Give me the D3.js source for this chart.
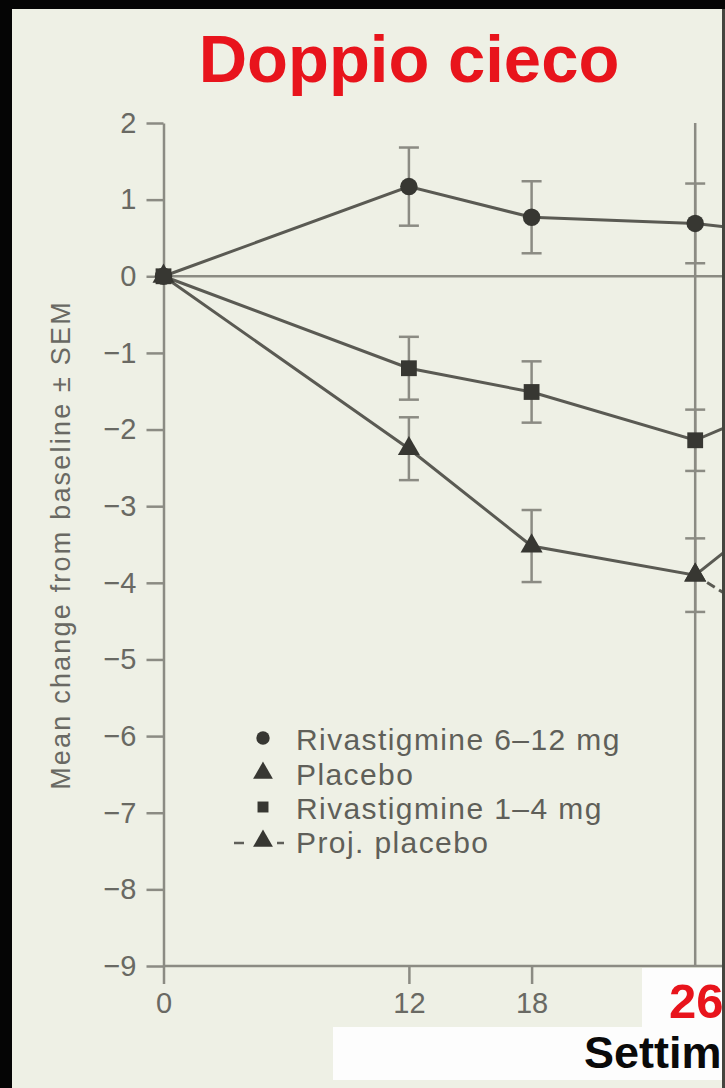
<!DOCTYPE html>
<html>
<head>
<meta charset="utf-8">
<script src="https://cdn.jsdelivr.net/npm/d3@7"></script>
<style>
  html, body { margin: 0; padding: 0; background: #000; }
  svg { display: block; }
  text { font-family: "Liberation Sans", Arial, Helvetica, sans-serif; }
</style>
</head>
<body>
<svg id="chart" width="725" height="1088"></svg>
<script>
// ADAS-cog style change from baseline, weeks of treatment
const weeks = [0, 12, 18, 26, 38];

const highDose = [0, 1.17, 0.77, 0.69, 0.33];     // Rivastigmine 6–12 mg
const highDoseSem = [null, 0.51, 0.47, 0.52, null];

const lowDose = [0, -1.20, -1.51, -2.14, -0.78];  // Rivastigmine 1–4 mg
const lowDoseSem = [null, 0.41, 0.40, 0.40, null];

const placebo = [0, -2.25, -3.52, -3.90, -1.35];
const placeboSem = [null, 0.41, 0.47, 0.48, null];

const projWeeks = [26, 52];
const projPlacebo = [-3.90, -8.20];

const yTicks = [2, 1, 0, -1, -2, -3, -4, -5, -6, -7, -8, -9];
const xTicks = [0, 12, 18];
const endWeek = 26;

const legendLabels = ["Rivastigmine 6\u201312 mg", "Placebo", "Rivastigmine 1\u20134 mg", "Proj. placebo"];

const W = 725, H = 1088;
const svg = d3.select("#chart");

const bg = "#eef0e5";
const axisGrey = "#8b8b83";
const lineGrey = "#5a5a53";
const markFill = "#373732";
const textGrey = "#696963";
const legendGrey = "#5f5f59";

// page frame
svg.append("rect").attr("width", W).attr("height", H).attr("fill", "#050505");
svg.append("rect").attr("x", 12).attr("y", 9).attr("width", 710).attr("height", H - 9).attr("fill", bg);

// scales
const x = d3.scaleLinear().domain([0, 52]).range([163.5, 163.5 + 52 * 20.45]);
const y = d3.scaleLinear().domain([-9, 2]).range([966, 123]);

const defs = svg.append("defs");
defs.append("clipPath").attr("id", "plotClip")
  .append("rect").attr("x", 12).attr("y", 9).attr("width", 710).attr("height", H);

// title
svg.append("text")
  .attr("x", 409).attr("y", 82)
  .attr("text-anchor", "middle")
  .attr("font-size", 67).attr("font-weight", "bold")
  .attr("fill", "#e8141c")
  .text("Doppio cieco");

const plot = svg.append("g").attr("clip-path", "url(#plotClip)");

// y axis
const yAxis = d3.axisLeft(y).tickValues(yTicks).tickSize(17).tickSizeOuter(0).tickPadding(10)
  .tickFormat(d3.format("d"));
const gy = plot.append("g").attr("transform", `translate(${x(0)},0)`).call(yAxis);
gy.select(".domain").attr("stroke", axisGrey).attr("stroke-width", 2.5);
gy.selectAll(".tick line").attr("stroke", axisGrey).attr("stroke-width", 2.5);
gy.selectAll(".tick text").attr("fill", textGrey).attr("font-size", 29)
  .attr("font-family", "Liberation Sans, Arial, sans-serif");

// x axis
const xAxis = d3.axisBottom(x).tickValues(xTicks).tickSize(18).tickSizeOuter(0).tickPadding(8);
const gx = plot.append("g").attr("transform", `translate(0,${y(-9)})`).call(xAxis);
gx.select(".domain").attr("stroke", axisGrey).attr("stroke-width", 2.5)
  .attr("d", `M${x(0)},0H${W}`);
gx.selectAll(".tick line").attr("stroke", axisGrey).attr("stroke-width", 2.5);
gx.selectAll(".tick text").attr("fill", textGrey).attr("font-size", 29)
  .attr("font-family", "Liberation Sans, Arial, sans-serif");

// zero reference and end of double-blind phase
plot.append("line")
  .attr("x1", x(0)).attr("x2", W).attr("y1", y(0)).attr("y2", y(0))
  .attr("stroke", axisGrey).attr("stroke-width", 2.5);
plot.append("line")
  .attr("x1", x(endWeek)).attr("x2", x(endWeek)).attr("y1", y(2)).attr("y2", y(-9))
  .attr("stroke", axisGrey).attr("stroke-width", 2.5);

// y axis title
svg.append("text")
  .attr("transform", `translate(70,${545}) rotate(-90)`)
  .attr("text-anchor", "middle")
  .attr("font-size", 27).attr("letter-spacing", 2.2)
  .attr("fill", textGrey)
  .text("Mean change from baseline  \u00b1 SEM");

const line = d3.line().x(d => x(d[0])).y(d => y(d[1]));

function drawSeries(vals, sem) {
  const pts = weeks.map((w, i) => [w, vals[i], sem[i]]);
  plot.append("path").datum(pts).attr("d", line)
    .attr("fill", "none").attr("stroke", lineGrey).attr("stroke-width", 3);
  const eb = plot.append("g");
  pts.filter(p => p[2] != null).forEach(p => {
    const cx = x(p[0]);
    eb.append("line").attr("x1", cx).attr("x2", cx)
      .attr("y1", y(p[1] + p[2])).attr("y2", y(p[1] - p[2]))
      .attr("stroke", axisGrey).attr("stroke-width", 2.5);
    [p[1] + p[2], p[1] - p[2]].forEach(v => {
      eb.append("line").attr("x1", cx - 10).attr("x2", cx + 10)
        .attr("y1", y(v)).attr("y2", y(v))
        .attr("stroke", axisGrey).attr("stroke-width", 2.5);
    });
  });
  return pts;
}

function drawMarkers(pts, symbol, size) {
  plot.append("g").selectAll("path").data(pts).join("path")
    .attr("transform", d => `translate(${x(d[0])},${y(d[1])})`)
    .attr("d", d3.symbol().type(symbol).size(size))
    .attr("fill", markFill);
}

const hiPts = drawSeries(highDose, highDoseSem);
const plPts = drawSeries(placebo, placeboSem);
const loPts = drawSeries(lowDose, lowDoseSem);

// projected placebo decline
const projPts = projWeeks.map((w, i) => [w, projPlacebo[i]]);
plot.append("path").datum(projPts).attr("d", line)
  .attr("fill", "none").attr("stroke", lineGrey).attr("stroke-width", 3)
  .attr("stroke-dasharray", "9,5");

drawMarkers(hiPts, d3.symbolCircle, 240);
drawMarkers(plPts, d3.symbolTriangle, 210);
drawMarkers(projPts, d3.symbolTriangle, 210);
drawMarkers(loPts, d3.symbolSquare, 250);

// legend
const legend = svg.append("g");
const legY = [750, 785, 819, 853];
const legSyms = [d3.symbolCircle, d3.symbolTriangle, d3.symbolSquare, d3.symbolTriangle];
const legSizes = [140, 170, 120, 170];
legendLabels.forEach((lab, i) => {
  legend.append("path")
    .attr("transform", `translate(263,${legY[i] - 12})`)
    .attr("d", d3.symbol().type(legSyms[i]).size(legSizes[i]))
    .attr("fill", markFill);
  legend.append("text")
    .attr("x", 296).attr("y", legY[i])
    .attr("font-size", 30).attr("letter-spacing", 1.4)
    .attr("fill", legendGrey)
    .text(lab);
});
legend.append("line").attr("x1", 234).attr("x2", 244).attr("y1", 843).attr("y2", 843)
  .attr("stroke", legendGrey).attr("stroke-width", 2.5);
legend.append("line").attr("x1", 277).attr("x2", 284).attr("y1", 843).attr("y2", 843)
  .attr("stroke", legendGrey).attr("stroke-width", 2.5);

// caption boxes at the bottom
const cap = svg.append("g").attr("clip-path", "url(#plotClip)");
cap.append("rect").attr("x", 642).attr("y", 968).attr("width", 90).attr("height", 60).attr("fill", "#fdfdfd");
cap.append("rect").attr("x", 333).attr("y", 1027).attr("width", 400).attr("height", 53).attr("fill", "#fdfdfd");
cap.append("text")
  .attr("x", x(endWeek) + 1).attr("y", 1018)
  .attr("text-anchor", "middle")
  .attr("font-size", 49).attr("font-weight", "bold")
  .attr("fill", "#e8141c")
  .text(String(endWeek));
cap.append("text")
  .attr("x", 584).attr("y", 1068)
  .attr("font-size", 45).attr("font-weight", "bold")
  .attr("fill", "#0a0a0a")
  .text("Settimane");

// right border of the slide
svg.append("rect").attr("x", 722).attr("y", 9).attr("width", 3).attr("height", H - 9).attr("fill", "#45453f");
</script>
</body>
</html>
